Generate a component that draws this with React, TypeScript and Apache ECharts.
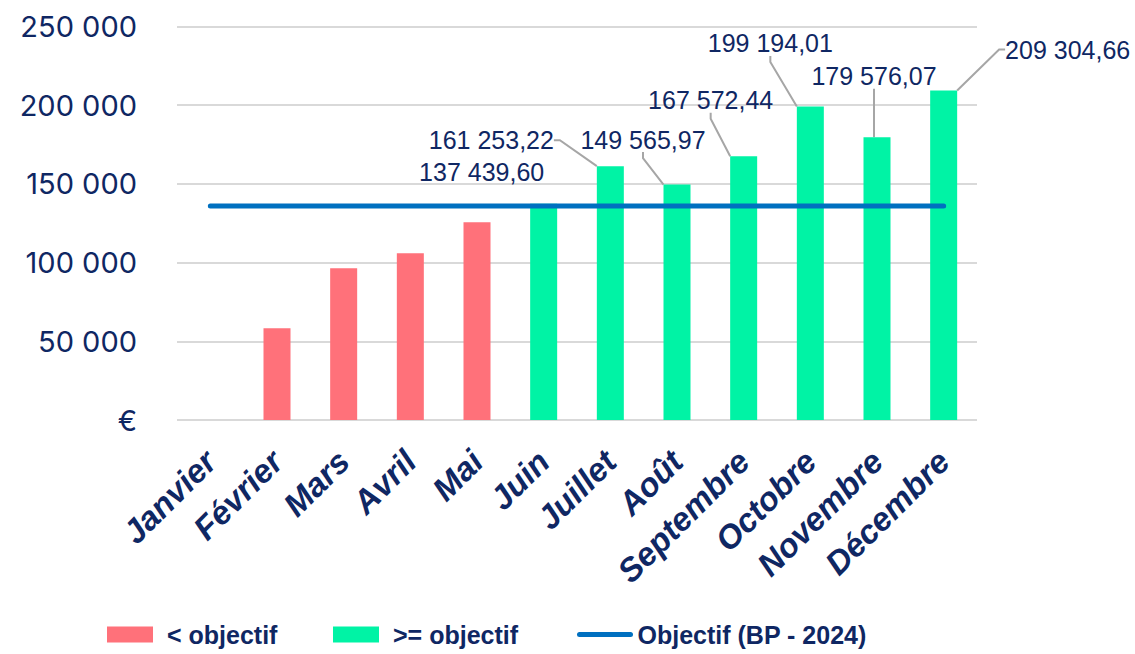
import React, { useEffect, useRef } from "react";
import * as echarts from "echarts";

const months = ["Janvier", "Février", "Mars", "Avril", "Mai", "Juin", "Juillet", "Août", "Septembre", "Octobre", "Novembre", "Décembre"];
const revenue = [0, 58300, 96400, 105900, 125600, 137439.6, 161253.22, 149565.97, 167572.44, 199194.01, 179576.07, 209304.66];
const objective = 136000;
const yTicks = [0, 50000, 100000, 150000, 200000, 250000];
const seriesNames = ["< objectif", ">= objectif", "Objectif (BP - 2024)"];

// label placement offsets (label centre relative to bar top centre), layout only
const labelOffsets: Record<number, [number, number]> = {
  5: [-62, -32],
  6: [-119, -26],
  7: [-34, -45],
  8: [-33, -56],
  9: [-40, -63],
  10: [-3, -61],
  11: [124, -41],
};

const NAVY = "#0f2763";
const fmt = (v: number) => {
  const [i, d] = v.toFixed(2).split(".");
  return i.replace(/\B(?=(\d{3})+(?!\d))/g, " ") + "," + d;
};

const legendText = {
  color: NAVY,
  fontSize: 25,
  fontWeight: "bold",
  fontFamily: "Liberation Sans, Arial, sans-serif",
};

export default function App() {
  const ref = useRef<HTMLDivElement>(null);
  useEffect(() => {
    if (!ref.current) return;
    const chart = echarts.init(ref.current, null, { renderer: "svg" });
    const below = revenue.map((v) => (v < objective ? v : "-"));
    const above = revenue.map((v, i) =>
      v >= objective ? { value: v, labelLine: { show: i !== 5 } } : "-"
    );
    chart.setOption({
      animation: false,
      grid: { left: 177, right: 158, top: 26.5, bottom: 234, containLabel: false },
      legend: [
        {
          left: 107,
          top: 622,
          padding: 0,
          itemWidth: 46,
          itemHeight: 16,
          textStyle: { ...legendText, padding: [0, 0, 0, 9] },
          data: [{ name: seriesNames[0], icon: "rect" }],
        },
        {
          left: 333,
          top: 622,
          padding: 0,
          itemWidth: 46,
          itemHeight: 16,
          textStyle: { ...legendText, padding: [0, 0, 0, 9] },
          data: [{ name: seriesNames[1], icon: "rect" }],
        },
        {
          left: 577,
          top: 622,
          padding: 0,
          itemWidth: 51,
          itemHeight: 16,
          textStyle: { ...legendText, padding: [0, 0, 0, 2] },
          lineStyle: { width: 5, cap: "round" },
          data: [{ name: seriesNames[2], itemStyle: { opacity: 0 } }],
        },
      ],
      xAxis: {
        type: "category",
        data: months,
        axisLine: { show: false },
        axisTick: { show: false },
        axisLabel: {
          rotate: 45,
          interval: 0,
          margin: 36,
          color: NAVY,
          fontSize: 33,
          fontWeight: "bold",
          fontStyle: "italic",
          fontFamily: "Liberation Sans, Arial, sans-serif",
        },
      },
      yAxis: {
        type: "value",
        min: yTicks[0],
        max: yTicks[yTicks.length - 1],
        interval: 50000,
        axisLine: { show: false },
        axisTick: { show: false },
        splitLine: { lineStyle: { color: "#d9d9d9", width: 2 } },
        axisLabel: {
          margin: 40,
          color: NAVY,
          fontSize: 29,
          fontFamily: "Inter, DejaVu Sans, sans-serif",
          formatter: (v: number) => (v === 0 ? "€" : String(v).replace(/\B(?=(\d{3})+(?!\d))/g, " ")),
        },
      },
      series: [
        {
          name: seriesNames[0],
          type: "bar",
          data: below,
          barWidth: 27,
          barGap: "-100%",
          itemStyle: { color: "#ff717a" },
        },
        {
          name: seriesNames[1],
          type: "bar",
          data: above,
          barWidth: 27,
          barGap: "-100%",
          itemStyle: { color: "#00f3a5" },
          label: {
            show: true,
            position: "top",
            color: NAVY,
            fontSize: 25,
            fontFamily: "Liberation Sans, Arial, sans-serif",
            formatter: (p: any) => fmt(p.value),
          },
          labelLine: { show: true, length2: 6, lineStyle: { color: "#a6a6a6", width: 2 } },
          labelLayout: (p: any) => {
            const off = labelOffsets[p.dataIndex];
            if (!off) return {};
            return {
              x: p.rect.x + p.rect.width / 2 + off[0],
              y: p.rect.y + off[1],
              align: "center",
              verticalAlign: "middle",
            };
          },
          z: 3,
        },
        {
          name: seriesNames[2],
          type: "line",
          data: months.map(() => objective),
          symbol: "none",
          lineStyle: { color: "#0070c0", width: 5, cap: "round" },
          itemStyle: { color: "#0070c0" },
          z: 4,
        },
      ],
    });
    return () => chart.dispose();
  }, []);
  return <div ref={ref} style={{ position: "fixed", left: 0, top: 0, width: 1135, height: 654, background: "#fff" }} />;
}
